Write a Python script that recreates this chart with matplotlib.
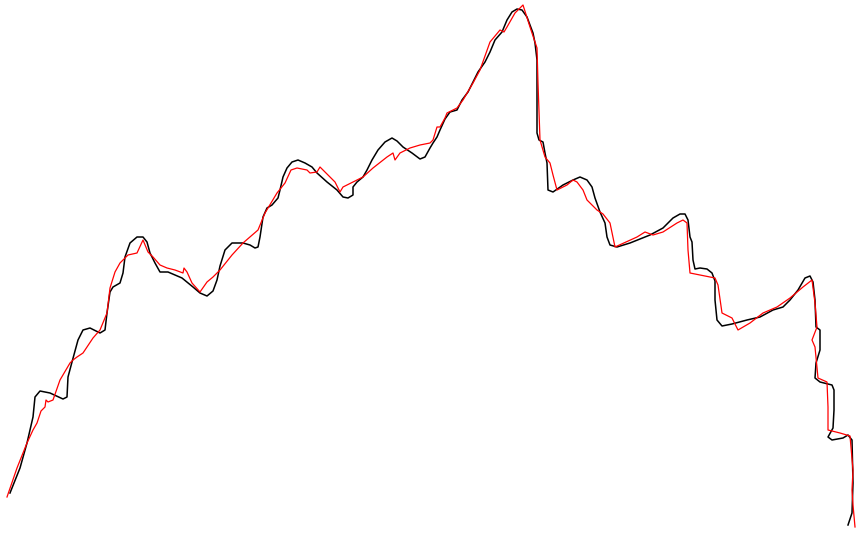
import matplotlib
matplotlib.use("Agg")
import matplotlib.pyplot as plt

# Black (smooth) series: x positions and values
black_x = [10, 20, 27, 33, 35, 40, 50, 63, 67, 68, 72, 78, 83, 90, 100, 105, 107, 110, 113, 120, 123, 125,
           130, 137, 143, 147, 150, 155, 160, 168, 182, 193, 200, 207, 213, 217, 220, 225, 232, 243, 250, 255,
           258, 260, 263, 267, 272, 278, 280, 283, 287, 292, 298, 305, 312, 317, 327, 337, 343, 348, 353, 353,
           357, 363, 367, 372, 378, 385, 392, 397, 403, 412, 420, 425, 430, 433, 437, 440, 445, 450, 457, 462,
           468, 473, 478, 485, 490, 495, 502, 507, 512, 517, 522, 527, 530, 533, 535, 537, 537, 537, 537, 539,
           543, 545, 547, 548, 553, 563, 573, 580, 587, 592, 595, 600, 605, 607, 610, 617, 630, 650, 663, 673,
           680, 685, 688, 690, 692, 693, 695, 700, 707, 712, 715, 715, 717, 722, 732, 747, 760, 773, 783, 790,
           798, 805, 810, 813, 815, 816, 820, 820, 816, 815, 820, 832, 834, 834, 833, 828, 832, 843, 848, 852,
           853, 852, 848]
black_y = [493, 468, 443, 417, 397, 391, 393, 399, 397, 377, 362, 340, 330, 328, 333, 330, 313, 292, 287, 283, 273, 257,
           243, 237, 237, 242, 253, 263, 272, 272, 278, 287, 293, 296, 291, 280, 266, 250, 243, 243, 245, 248,
           247, 237, 217, 208, 205, 198, 190, 177, 168, 162, 160, 163, 167, 173, 182, 190, 197, 198, 195, 187,
           182, 177, 170, 160, 150, 142, 138, 141, 147, 153, 159, 157, 148, 143, 137, 130, 119, 112, 110, 100,
           92, 82, 72, 62, 52, 40, 32, 20, 12, 9, 10, 17, 25, 33, 43, 60, 83, 97, 133, 140,
           142, 153, 163, 190, 192, 185, 180, 177, 180, 187, 198, 212, 223, 237, 245, 247, 243, 235, 228, 218,
           214, 214, 220, 237, 242, 260, 269, 268, 269, 273, 281, 300, 320, 326, 324, 320, 317, 310, 307, 300,
           290, 278, 276, 282, 300, 327, 330, 350, 363, 378, 382, 385, 390, 410, 428, 437, 440, 438, 435, 440,
           483, 513, 525]

# Red (noisy) series: x positions and values
red_x = [7, 17, 27, 33, 37, 41, 45, 46, 48, 53, 60, 70, 73, 77, 83, 93, 100, 107, 110, 115, 120, 128, 137, 142,
         143, 148, 153, 160, 167, 175, 183, 184, 187, 192, 200, 207, 213, 220, 232, 243, 258, 265, 277, 285, 291,
         297, 307, 310, 317, 320, 328, 335, 340, 343, 353, 363, 373, 387, 393, 395, 400, 410, 420, 430, 433,
         437, 440, 445, 447, 457, 463, 473, 480, 490, 500, 504, 507, 515, 523, 530, 537, 538, 540, 543, 545,
         550, 553, 557, 567, 573, 577, 583, 587, 597, 603, 610, 615, 637, 645, 653, 663, 677, 683, 687, 688,
         689, 690, 700, 715, 718, 722, 732, 738, 750, 763, 777, 790, 803, 812, 815, 817, 812, 815, 818, 827,
         828, 828, 840, 850, 853, 852, 853, 855]
red_y = [497, 468, 443, 430, 423, 411, 407, 400, 402, 400, 380, 363, 360, 357, 353, 338, 330, 313, 288, 272, 263, 255, 253, 242,
         240, 252, 257, 265, 268, 270, 273, 268, 272, 283, 292, 282, 277, 270, 255, 243, 230, 213, 193, 183, 170,
         168, 170, 173, 172, 167, 175, 182, 192, 187, 182, 177, 168, 157, 153, 160, 153, 148, 145, 143, 140,
         127, 127, 118, 113, 108, 100, 83, 70, 42, 30, 32, 27, 13, 5, 27, 48, 83, 140, 150, 157,
         163, 175, 190, 185, 180, 182, 190, 200, 210, 214, 223, 247, 237, 232, 235, 232, 223, 220, 223, 250,
         262, 273, 275, 278, 285, 313, 318, 330, 323, 313, 307, 298, 287, 280, 303, 327, 340, 347, 378, 382,
         407, 430, 433, 436, 470, 490, 505, 527]

fig = plt.figure(figsize=(8.58, 5.34), dpi=100)
ax = fig.add_axes([0, 0, 1, 1])
ax.plot(black_x, black_y, color="black", linewidth=1.1)
ax.plot(red_x, red_y, color="red", linewidth=0.9)
ax.set_xlim(0, 858)
ax.set_ylim(534, 0)
ax.axis("off")
fig.savefig("out.png", dpi=100)
